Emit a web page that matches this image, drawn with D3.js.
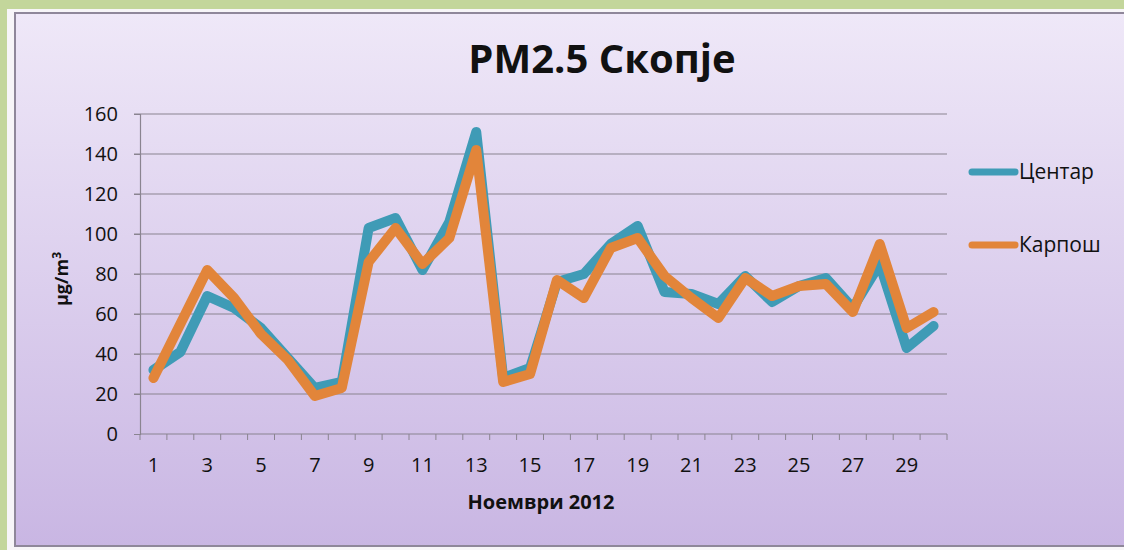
<!DOCTYPE html>
<html lang="mk">

<head>
  <meta charset="UTF-8">
  <title>PM2.5 Скопје</title>
  <script src="https://d3js.org/d3.v7.min.js"></script>
  <style>
    body { margin: 0; background: #c3d69b; }
    svg { display: block; font-family: "Comic Sans MS", "Open Sans", sans-serif; }
  </style>
</head>

<body>
  <svg id="chart" width="1124" height="550"></svg>

  <script>
    // Ноември 2012, daily values
    const days = d3.range(1, 31);
    const centar = [32, 41, 69, 63, 53, 38, 23, 26, 103, 108, 82, 106, 151, 28, 33, 76, 80, 95, 104, 71,
      70, 65, 79, 66, 74, 78, 63, 85, 43, 54];
    const karposh = [28, 55, 82, 68, 50, 37, 19, 23, 86, 103, 85, 98, 142, 26, 30, 77, 68, 93, 98, 79,
      68, 58, 78, 69, 74, 75, 61, 95, 53, 61];
    const yTicks = [0, 20, 40, 60, 80, 100, 120, 140, 160];
    const seriesNames = ["Центар", "Карпош"];
    const seriesColors = ["#3f9bb6", "#e2853a"];

    const svg = d3.select("#chart");

    const defs = svg.append("defs");
    const grad = defs.append("linearGradient")
      .attr("id", "bg")
      .attr("x1", 0).attr("y1", 0).attr("x2", 0).attr("y2", 1);
    grad.append("stop").attr("offset", "0%").attr("stop-color", "#efe8f8");
    grad.append("stop").attr("offset", "100%").attr("stop-color", "#c9b6e3");

    // outer white strip + frame
    svg.append("rect")
      .attr("x", 7).attr("y", 9)
      .attr("width", 1124).attr("height", 541)
      .attr("fill", "#f7f5f8");
    svg.append("rect")
      .attr("x", 15).attr("y", 13)
      .attr("width", 1120).attr("height", 533)
      .attr("fill", "url(#bg)")
      .attr("stroke", "#8f879a")
      .attr("stroke-width", 2);

    const margin = { top: 114, left: 140 };
    const width = 807;
    const height = 320;

    const g = svg.append("g")
      .attr("transform", `translate(${margin.left}, ${margin.top})`);

    const x = d3.scaleBand()
      .domain(days)
      .range([0, width]);

    const y = d3.scaleLinear()
      .domain([0, 160])
      .range([height, 0]);

    // gridlines
    g.append("g")
      .selectAll("line")
      .data(yTicks.slice(1))
      .enter().append("line")
      .attr("x1", -6).attr("x2", width)
      .attr("y1", d => y(d)).attr("y2", d => y(d))
      .attr("stroke", "#8a8490")
      .attr("stroke-width", 1.2);

    const yAxis = g.append("g")
      .call(d3.axisLeft(y).tickValues(yTicks).tickSize(6).tickPadding(16));
    yAxis.select(".domain").attr("stroke", "#8a8490").attr("stroke-width", 1.2);
    yAxis.selectAll(".tick line").attr("stroke", "#8a8490");
    yAxis.selectAll("text")
      .attr("font-size", 20)
      .attr("font-family", "\"Comic Sans MS\", \"Open Sans\", sans-serif")
      .attr("fill", "#111");

    // x axis: ticks at category boundaries, labels on odd days
    const xAxis = g.append("g")
      .attr("transform", `translate(0, ${height})`);
    xAxis.append("line")
      .attr("x1", 0).attr("x2", width)
      .attr("stroke", "#8a8490").attr("stroke-width", 1.2);
    xAxis.selectAll(".bt")
      .data(d3.range(0, days.length + 1))
      .enter().append("line")
      .attr("class", "bt")
      .attr("x1", i => i * x.bandwidth()).attr("x2", i => i * x.bandwidth())
      .attr("y1", 0).attr("y2", 6)
      .attr("stroke", "#8a8490");
    xAxis.selectAll(".lbl")
      .data(days.filter(d => d % 2 === 1))
      .enter().append("text")
      .attr("class", "lbl")
      .attr("x", d => x(d) + x.bandwidth() / 2)
      .attr("y", 38)
      .attr("text-anchor", "middle")
      .attr("font-size", 20)
      .attr("fill", "#111")
      .text(d => d);

    // axis titles
    svg.append("text")
      .attr("x", 541)
      .attr("y", 509)
      .attr("text-anchor", "middle")
      .attr("font-size", 20)
      .attr("font-weight", "bold")
      .attr("fill", "#111")
      .text("Ноември 2012");

    const yt = svg.append("text")
      .attr("transform", "translate(68, 279) rotate(-90)")
      .attr("text-anchor", "middle")
      .attr("font-size", 18)
      .attr("font-weight", "bold")
      .attr("fill", "#111");
    yt.append("tspan").text("µg/m");
    yt.append("tspan").attr("font-size", 12).attr("dy", -7).text("3");

    // title
    svg.append("text")
      .attr("x", 602)
      .attr("y", 73)
      .attr("text-anchor", "middle")
      .attr("font-size", 40)
      .attr("font-weight", "bold")
      .attr("fill", "#111")
      .text("PM2.5 Скопје");

    // lines
    const line = d3.line()
      .x((d, i) => x(days[i]) + x.bandwidth() / 2)
      .y(d => y(d))
      .curve(d3.curveLinear);

    [centar, karposh].forEach((vals, k) => {
      g.append("path")
        .datum(vals)
        .attr("fill", "none")
        .attr("stroke", seriesColors[k])
        .attr("stroke-width", 10)
        .attr("stroke-linejoin", "round")
        .attr("stroke-linecap", "round")
        .attr("d", line);
    });

    // legend
    const legend = svg.append("g")
      .attr("transform", "translate(972, 0)");
    const legY = [172, 245];
    seriesNames.forEach((name, k) => {
      legend.append("line")
        .attr("x1", 0).attr("x2", 43)
        .attr("y1", legY[k]).attr("y2", legY[k])
        .attr("stroke", seriesColors[k])
        .attr("stroke-width", 7)
        .attr("stroke-linecap", "round");
      legend.append("text")
        .attr("x", 47)
        .attr("y", legY[k] + 7)
        .attr("font-size", 21)
        .attr("fill", "#111")
        .text(name);
    });
  </script>
</body>

</html>
